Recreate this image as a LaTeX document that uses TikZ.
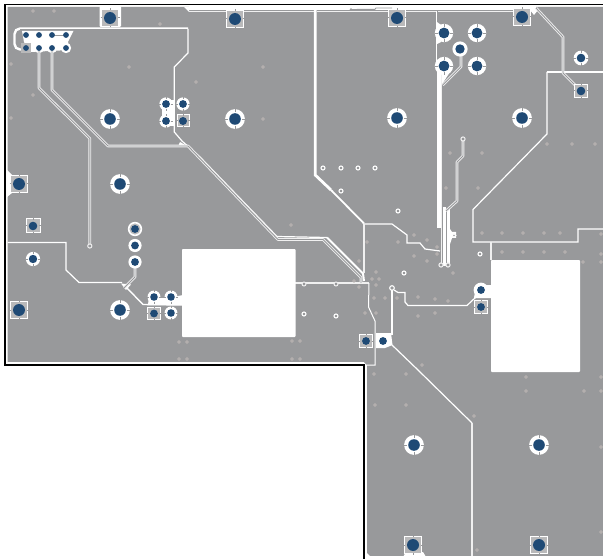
\documentclass[tikz,border=0pt]{standalone}
\definecolor{board}{HTML}{98999B}
\definecolor{padblue}{HTML}{1F4A75}
\definecolor{padgray}{HTML}{B9B9BA}
\definecolor{viaring}{HTML}{BDB7B5}
\definecolor{pale}{HTML}{F0F0F0}
\newcommand\ringpad[3]{%
  \fill[white] (#1,#2) circle[radius=#3*1.7];
  \draw[board,line width=.8] (#1-#3*1.75,#2) -- (#1-#3*1.2,#2) (#1+#3*1.2,#2) -- (#1+#3*1.75,#2)
     (#1,#2-#3*1.75) -- (#1,#2-#3*1.2) (#1,#2+#3*1.2) -- (#1,#2+#3*1.75);
  \fill[padblue] (#1,#2) circle[radius=#3];}
\newcommand\sqpad[4]{%
  \fill[padgray] (#1-#3,#2-#3) rectangle (#1+#3,#2+#3);
  \draw[white,line width=1] (#1-#3,#2-#3) rectangle (#1+#3,#2+#3);
  \draw[board,line width=1] (#1-#3-.7,#2) -- (#1-#3+.7,#2) (#1+#3-.7,#2) -- (#1+#3+.7,#2)
     (#1,#2-#3-.7) -- (#1,#2-#3+.7) (#1,#2+#3-.7) -- (#1,#2+#3+.7);
  \fill[padblue] (#1,#2) circle[radius=#4];}
\newcommand\ledpair[1]{%
  \draw[pale,line width=2.7,line join=round] #1;
  \draw[board,line width=.9,line join=round] #1;}
\begin{document}
\begin{tikzpicture}[x=1pt,y=-1pt,
  gap/.style={white,line width=1.2,line join=miter},
  thickgap/.style={white,line width=2.8},
  paleline/.style={pale,line width=1.1}]
\useasboundingbox (0,0) rectangle (603,559);
\fill[white] (0,0) rectangle (603,559);
% board copper
\fill[board] (7.5,7) -- (603,7) -- (603,556) -- (370,556) -- (367,553) -- (367,365.5)
  -- (364,362) -- (7.5,362) -- cycle;
\draw[white,line width=.7] (7.5,362.6) -- (364,362.6) (367.5,556.6) -- (603,556.6);
% top clearances
\fill[white] (188.5,5.5) rectangle (536,10.5);
\fill[white,rounded corners=1] (99.5,6) rectangle (121,27);
\fill[white] (530,10) -- (538,10) -- (534,15) -- cycle;
\fill[white] (184,7) -- (189,7) -- (189,12) -- cycle;
\draw[board,line width=.9] (351,9.5) -- (375,9.3) -- (376,8) -- (392,8);
\fill[board] (351,9.5) circle[radius=1.4];
\draw[pale,line width=.7] (188.5,11) -- (315,11) (317,11) -- (436,11) (438,11) -- (530,11);
% left chamfer behind pad
\fill[white] (7,170) -- (12,175) -- (12,193) -- (7,197) -- cycle;
% header clearance
\fill[white] (22,31) -- (73.5,31) -- (68,42) -- (70,50) -- (30,52) -- (24,42) -- cycle;
\foreach \x in {39,52,66} {\fill[white] (\x,48) circle[radius=5.2];}
\draw[white,line width=2.4] (188,28.5) -- (20,28.5) arc[start angle=-90,end angle=-180,radius=5.5] -- (14.5,44) arc[start angle=180,end angle=90,radius=5.5] -- (24,49.5);
\draw[board,line width=.5] (188,29) -- (20,29);
% plane boundaries
\draw[gap] (188,29) -- (188,53) -- (174.3,67) -- (174.3,132) -- (182,141) -- (200,157) -- (277,236.5) -- (327,237.5);
\draw[gap,line width=2] (327,237.5) -- (363,273.5) -- (364,281);
\draw[thickgap] (315.2,10) -- (315.2,175) -- (331,190);
\draw[gap,line width=1.8] (331,190) -- (364,223.5);
\draw[gap] (364,224) -- (392,224) -- (407,235) -- (407,243) -- (420,243) -- (425,249) -- (440,251);
\draw[paleline] (364,224) -- (364,273);
\fill[white] (180,142) -- (187,146) -- (178,146.5) -- cycle;
\draw[paleline] (295,283) -- (369,283);
\draw[gap,line width=1] (369,283) -- (368.5,307) -- (375,321) -- (375,365) -- (366,365);
\draw[gap,line width=1.5] (392,288) -- (392,335);
\draw[gap] (392,345) -- (418,370) -- (472,423);
\draw[paleline,line width=1.2] (472,423) -- (472,556);
\draw[gap] (394,290) -- (398,292.5) -- (405,292.5) -- (405,302) -- (408,305.5) -- (467,305.5) -- (476,297);
\draw[gap,line width=1.2] (547,72) -- (603,72);
\draw[gap] (547,72) -- (547,134) -- (473,209.5) -- (473,242) -- (578,242) -- (578,229) -- (603,229);
\draw[paleline] (491,242) -- (491,260);
\draw[gap] (7.5,242.5) -- (66,242.5) -- (66,270) -- (79,282.5) -- (122,282.5);
\fill[white] (121,283.5) -- (131,284.5) -- (126,290) -- cycle;
\draw[gap,line width=1.4] (127,288) -- (143,304.5) -- (182,305);
% copper-free windows
\fill[white,rounded corners=.8] (182,249) rectangle (295.5,337);
\fill[white,rounded corners=.8] (491,260) rectangle (580,372);
% patches
\fill[white] (148,305) -- (149,295) -- (159,298) -- (166,298) -- (171,296) -- (178,296) -- (183,295) -- (183,305) -- cycle;
\fill[white] (162,100) rectangle (175,126);
\fill[white] (376,333) -- (391,333) -- (392.5,345) -- (385,348) -- (376,348) -- cycle;
\fill[white] (476,285) -- (491,285) -- (491,298) -- (474,298) -- cycle;
\fill[white] (403,557) -- (406,552) -- (423,552) -- (426,557) -- cycle;
\fill[white] (436.7,73) rectangle (440.7,228);
\fill[white] (437,62) -- (444,57) -- (451,66) -- (450,72) -- (441.5,85) -- (437,85) -- cycle;
\draw[gap] (436.2,11) -- (436.2,62);
\fill[white] (437,22) -- (441,25) -- (441,42) -- (437,44) -- cycle;
\draw[paleline,line width=.8] (441.2,73) -- (441.2,265);
\fill[white] (443.3,207) rectangle (445.7,265.5);
\fill[white] (446.7,208) rectangle (450,265.5);
\fill[white] (450,229) -- (452,232) -- (456,232) -- (456,238) -- (452,238) -- (450,244) -- cycle;
% double signal traces
\ledpair{(39,50) -- (39,88) -- (89.8,138.5) -- (89.8,245)}
\ledpair{(52,50) -- (52,90) -- (108,146) -- (188,146) -- (278,239.5) -- (323,239.5) -- (361,277.5) -- (361,283)}
\ledpair{(442.7,85) -- (461,66.7) -- (461,55)}
\ledpair{(536,8) -- (563,37) -- (563,73) -- (575,85) -- (581,91)}
\ledpair{(463,139) -- (463,156) -- (457,162) -- (457,201) -- (446,211)}
\ledpair{(135,262) -- (135,277) -- (124,288)}
\draw[pale,line width=1,fill=board] (89.8,246) circle[radius=2.1];
\draw[pale,line width=1,fill=board] (463,139) circle[radius=2.1];
\draw[pale,line width=1,fill=board] (441,265) circle[radius=2.1];
\draw[pale,line width=1,fill=board] (448,265) circle[radius=2.1];
\draw[white,line width=1.1,fill=board] (392,288) circle[radius=2.3];
\draw[white,line width=1.1,fill=board] (454,235.5) circle[radius=1.8];
% white ring vias
\foreach \x/\y in {323/168,341/168,358/168,375/168,341/191,398/211,404/273,480/254,304/314,336/316} {
  \draw[white,line width=1.1,fill=board] (\x,\y) circle[radius=2];}
\foreach \x/\y in {304/284,336/284} {
  \draw[pale,line width=1,fill=board] (\x,\y) circle[radius=2];}
% small vias
\foreach \x/\y in {33/11,54/11,160/24,11/64,129/67,196/82,33/95,11/118,263/67,263/119,
  450/153,482/153,547/144,572/144,595/144,446/188,478/188,
  482/233,502/233,523/233,544/233,560/233,502/252,523/252,544/252,565/252,601/234,601/254,601/262,583/262,
  179/342,187/342,179/359,187/359,292/341,300/341,292/359,300/359,291/225,
  414/235,427/240,437/247,437/254,414/256,427/261,367/242,398/242,359/261,376/272,372/279,379/279,376/285,
  354/281,359/287,374/298,385/298,397/298,418/297,435/299,448/301,365/313,376/313,418/316,435/313,453/273,
  374/374,406/374,422/365,375/405,406/405,474/416,477/550,526/377,526/391,584/391,601/391,601/377,601/447,601/532} {
  \draw[viaring,line width=.8] (\x,\y) circle[radius=1.4];}
% thermal pads, large
\foreach \x/\y in {110/119,235/119,397/118,522/118,120/184,120/310,414/445,539/445} {\ringpad{\x}{\y}{5.8}}
\foreach \x/\y in {444/33,477/33,444/66,477/66} {\ringpad{\x}{\y}{5.4}}
\fill[white] (460,49) circle[radius=7.6];
\fill[padblue] (460,49) circle[radius=4.7];
\ringpad{581}{58}{4.3}
\ringpad{33}{259}{4.2}
\foreach \x/\y in {166/104,183/104,166/121} {\ringpad{\x}{\y}{3.9}}
\foreach \x/\y in {154/297,171/297,171/313} {\ringpad{\x}{\y}{3.8}}
% bubble chain
\fill[white] (135,229) circle[radius=7.2];
\fill[padgray] (135,229) circle[radius=5.6];
\foreach \y in {245.5,262} {\fill[white] (135,\y) circle[radius=6.6];}
\foreach \y in {229,245.5,262} {\fill[padblue] (135,\y) circle[radius=3.9];}
\fill[white] (481,290) circle[radius=7.4];
\fill[padblue] (481,290) circle[radius=3.9];
\fill[padblue] (383,341) circle[radius=3.9];
% square pads
\foreach \x/\y in {110/18,235/19,397/18,522/17,19/184,19/310,413/545,539/545} {\sqpad{\x}{\y}{8.8}{6}}
\foreach \x/\y in {33/226} {\sqpad{\x}{\y}{7}{4.3}}
\sqpad{581}{91}{6.8}{4.3}
\sqpad{481}{307}{6.6}{3.9}
\sqpad{366}{341}{6.6}{3.9}
\sqpad{183}{121}{6}{4}
\sqpad{154}{313.5}{6.4}{3.9}
% header
\fill[padgray] (21,43) rectangle (31,53);
\draw[board,line width=.8] (52,35) -- (66,35);
\foreach \x/\y in {26/35,39/35,52/35,66/35,26/48,39/48,52/48,66/48} {\fill[padblue] (\x,\y) circle[radius=2.9];}
% outline
\draw[black,line width=1.5] (603,4.7) -- (5,4.7) -- (5,365) -- (364,365) -- (364,559);
\end{tikzpicture}
\end{document}
